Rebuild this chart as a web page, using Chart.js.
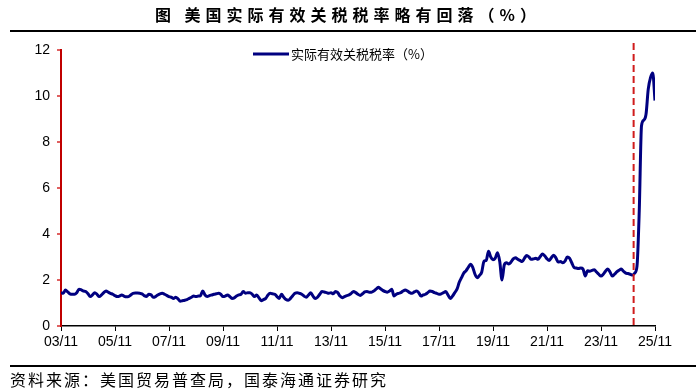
<!DOCTYPE html>
<html lang="zh">
<head>
<meta charset="UTF-8">
<title>美国实际有效关税税率</title>
<script src="https://cdn.jsdelivr.net/npm/chart.js"></script>
<style>
  body { margin: 0; width: 696px; height: 390px; background: #fff; position: relative; overflow: hidden;
         font-family: "Noto Sans CJK SC", sans-serif; color: #000; }
  #wrap { position: absolute; left: 0; top: 0; width: 696px; height: 390px; }
  #title { position: absolute; left: 0; top: 3px; width: 696px; text-align: center;
           font-size: 16px; font-weight: bold; letter-spacing: 5px; line-height: 22px; }
  .rule { position: absolute; left: 10px; right: 0; border-top: 2px solid #000; }
  #source { position: absolute; left: 10px; top: 369px; font-size: 16px; letter-spacing: 2px; line-height: 20px; }
</style>
</head>
<body>

<div id="wrap"><canvas id="tariffChart"></canvas></div>
<div id="title">图&nbsp;美国实际有效关税税率略有回落（%）</div>
<div class="rule" style="top:30px"></div>
<div class="rule" style="top:365px"></div>
<div id="source">资料来源：美国贸易普查局，国泰海通证券研究</div>

<script>
// monthly effective tariff rate (%), 2003-11 .. 2025-11
const seriesName = '实际有效关税税率（%）';
const tariffRate = [
  1.45,1.42,1.56,1.48,1.40,1.38,1.38,1.45,1.60,1.57,1.52,1.50,
  1.40,1.28,1.35,1.45,1.38,1.28,1.35,1.45,1.52,1.47,1.42,1.38,
  1.32,1.28,1.30,1.35,1.30,1.27,1.28,1.35,1.42,1.43,1.43,1.42,
  1.40,1.32,1.28,1.38,1.36,1.25,1.28,1.35,1.40,1.42,1.38,1.33,
  1.28,1.25,1.20,1.25,1.18,1.08,1.10,1.12,1.15,1.20,1.25,1.30,
  1.28,1.30,1.32,1.52,1.35,1.28,1.32,1.35,1.38,1.40,1.42,1.38,
  1.28,1.30,1.35,1.28,1.20,1.22,1.30,1.35,1.38,1.50,1.42,1.45,
  1.45,1.38,1.28,1.35,1.22,1.10,1.15,1.20,1.35,1.42,1.40,1.38,
  1.28,1.20,1.38,1.25,1.15,1.12,1.20,1.32,1.42,1.45,1.42,1.38,
  1.30,1.25,1.35,1.45,1.30,1.20,1.25,1.38,1.50,1.48,1.45,1.42,
  1.45,1.40,1.50,1.45,1.30,1.23,1.28,1.32,1.35,1.42,1.50,1.45,
  1.38,1.33,1.40,1.48,1.50,1.47,1.47,1.52,1.60,1.68,1.62,1.55,
  1.50,1.47,1.52,1.60,1.30,1.38,1.42,1.45,1.52,1.57,1.52,1.45,
  1.42,1.48,1.52,1.45,1.30,1.35,1.38,1.45,1.52,1.50,1.45,1.42,
  1.38,1.40,1.45,1.50,1.35,1.20,1.30,1.45,1.60,1.90,2.10,2.30,
  2.40,2.55,2.68,2.55,2.25,2.10,2.20,2.35,2.82,2.85,3.25,3.00,
  2.88,2.95,3.18,2.80,2.00,2.65,2.75,2.70,2.78,2.92,2.97,2.90,
  2.85,2.80,2.95,3.07,3.00,2.90,2.92,2.95,2.90,3.02,3.13,3.05,
  2.92,2.85,2.98,3.08,2.95,2.78,2.80,2.75,2.82,3.00,2.95,2.75,
  2.55,2.52,2.50,2.52,2.48,2.17,2.40,2.38,2.42,2.45,2.35,2.25,
  2.17,2.25,2.38,2.48,2.35,2.17,2.25,2.35,2.42,2.48,2.38,2.30,
  2.28,2.25,2.22,2.30,2.60,5.00,8.70,8.95,9.20,10.30,10.80,11.00,9.80
];

// month labels "YY/MM", starting 03/11
const months = [];
for (let i = 0; i < tariffRate.length; i++) {
  const m = (10 + i) % 12 + 1;
  const y = 3 + Math.floor((10 + i) / 12);
  months.push(String(y).padStart(2, '0') + '/' + String(m).padStart(2, '0'));
}
const yTicks = [0, 2, 4, 6, 8, 10, 12];
const policyMark = 254.5;   // early 2025, red dashed marker

const points = tariffRate.map((v, i) => ({ x: i, y: v }));

// red dashed vertical marker + in-plot legend
const extras = {
  id: 'extras',
  afterDatasetsDraw(chart) {
    const { ctx, chartArea, scales } = chart;
    const x = scales.x.getPixelForValue(policyMark);
    ctx.save();
    ctx.strokeStyle = '#d01c1c';
    ctx.lineWidth = 2;
    ctx.setLineDash([7, 4]);
    ctx.beginPath();
    ctx.moveTo(x, chartArea.top - 7);
    ctx.lineTo(x, chartArea.bottom);
    ctx.stroke();
    ctx.setLineDash([]);

    // legend
    const lx = 253, ly = chartArea.top + 4;
    ctx.strokeStyle = '#000080';
    ctx.lineWidth = 3;
    ctx.beginPath();
    ctx.moveTo(lx, ly);
    ctx.lineTo(lx + 36, ly);
    ctx.stroke();
    ctx.fillStyle = '#000';
    ctx.font = '13px "Noto Sans CJK SC"';
    ctx.textBaseline = 'middle';
    ctx.fillText(seriesName, lx + 38, ly);
    ctx.restore();
  }
};

new Chart(document.getElementById('tariffChart'), {
  type: 'line',
  data: {
    datasets: [{
      label: seriesName,
      data: points,
      borderColor: '#000080',
      backgroundColor: '#000080',
      borderWidth: 3,
      pointRadius: 0,
      cubicInterpolationMode: 'monotone',
      fill: false
    }]
  },
  options: {
    responsive: true,
    maintainAspectRatio: false,
    animation: false,
    layout: { padding: { left: 0, top: 50, right: 41, bottom: 34 } },
    plugins: { legend: { display: false }, tooltip: { enabled: false } },
    scales: {
      x: {
        type: 'linear',
        min: 0,
        max: tariffRate.length - 1,
        afterFit: s => { s.height = 30; },
        afterBuildTicks: s => { s.ticks = months.map((_, i) => ({ value: i })).filter(t => t.value % 24 === 0); },
        ticks: {
          autoSkip: false,
          maxRotation: 0,
          padding: 3,
          color: '#000',
          font: { family: '"Liberation Sans", Arial', size: 14 },
          callback: v => months[v]
        },
        grid: { drawOnChartArea: false, drawTicks: true, tickLength: 5, color: '#000', lineWidth: 1 },
        border: { color: '#000', width: 1.5 }
      },
      y: {
        min: 0,
        max: 12,
        afterFit: s => { s.width = 61; },
        afterBuildTicks: s => { s.ticks = yTicks.map(v => ({ value: v })); },
        ticks: {
          padding: 7,
          color: '#000',
          font: { family: '"Liberation Sans", Arial', size: 14 }
        },
        grid: { drawOnChartArea: false, drawTicks: true, tickLength: 4, color: '#e06060', lineWidth: 2 },
        border: { color: '#c00000', width: 2 }
      }
    }
  },
  plugins: [extras]
});
</script>

</body>
</html>
